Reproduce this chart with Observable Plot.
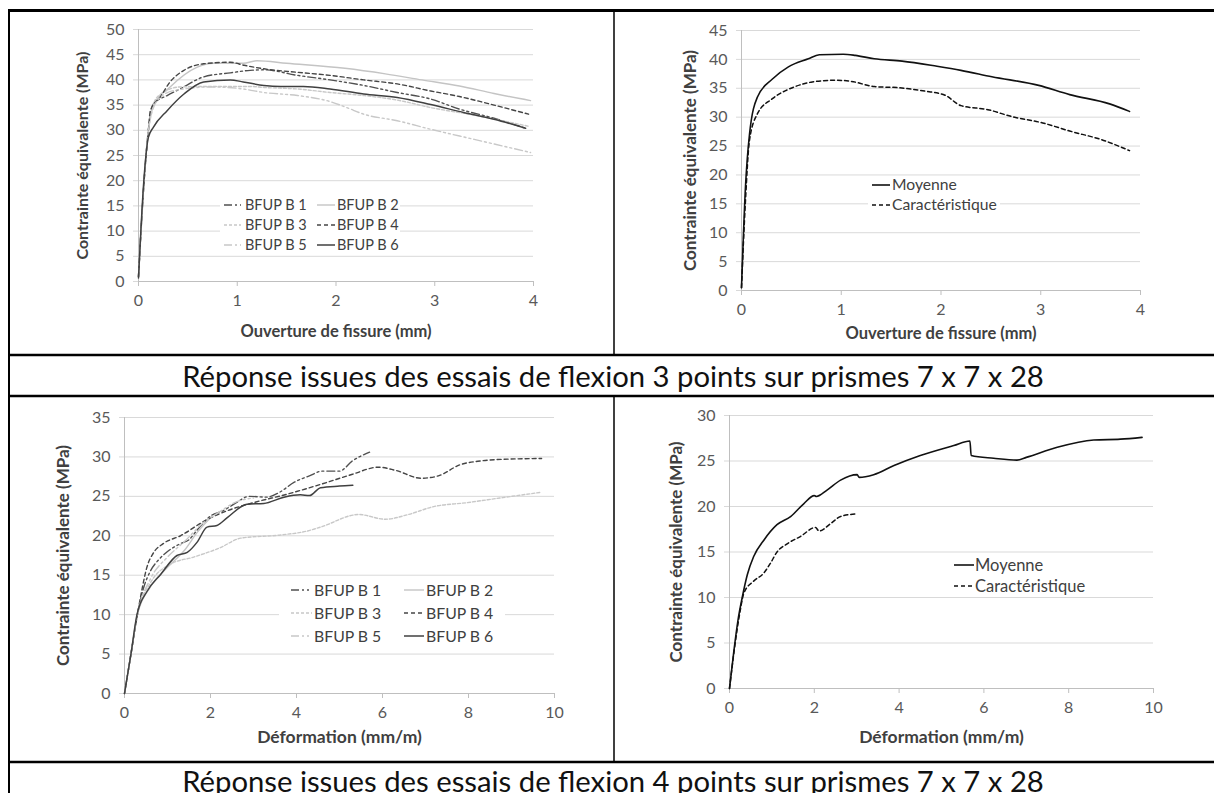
<!DOCTYPE html>
<html><head><meta charset="utf-8">
<script src="https://cdn.jsdelivr.net/npm/d3@7"></script>
<script src="https://cdn.jsdelivr.net/npm/@observablehq/plot@0.6"></script>
<style>
html,body{margin:0;padding:0;background:#fff;}
#page{position:relative;width:1214px;height:793px;overflow:hidden;font-family:Lato,"Open Sans",sans-serif;}
#page > svg{position:absolute;}
</style></head><body><div id="page"></div>
<script>
// ---------- DATA ----------
// Panel 1 : flexion 3 points, individual specimens (ouverture de fissure mm, contrainte MPa)
const f3_xTicks = [0, 1, 2, 3, 4];
const f3_yTicks = [0, 5, 10, 15, 20, 25, 30, 35, 40, 45, 50];
const f3_B1 = [[0,1],[0.05,18],[0.1,30],[0.15,35.2],[0.29,36.9],[0.42,38.2],[0.66,40.6],[0.93,41.4],[1.13,41.9],[1.27,42],[1.61,40.9],[1.94,40],[2.28,38.9],[2.62,37.5],[2.96,36.2],[3.25,34.2],[3.6,32.4],[3.92,30.4]];
const f3_B2 = [[0,1],[0.05,18],[0.1,30],[0.15,34.9],[0.32,38.6],[0.59,42.5],[0.76,43.3],[1.06,43.3],[1.2,43.8],[1.5,43.3],[2.09,42.3],[2.5,41.2],[2.87,40],[3.25,38.8],[3.6,37.3],[3.97,35.9]];
const f3_B3 = [[0,1],[0.05,18],[0.1,30],[0.19,36.6],[0.42,38.6],[0.73,38.7],[1.13,38.7],[1.27,38.5],[1.61,38.2],[1.94,37.5],[2.28,36.9],[2.62,36],[2.96,34.5],[3.4,33],[3.95,30.8]];
const f3_B4 = [[0,1],[0.05,18],[0.1,30],[0.12,33.9],[0.22,36.6],[0.32,39.6],[0.46,41.9],[0.66,43.2],[0.93,43.5],[1.07,42.9],[1.27,42.2],[1.61,41.5],[1.94,40.9],[2.28,40],[2.62,39.2],[2.96,37.8],[3.25,36.7],[3.6,35],[3.95,33.2]];
const f3_B5 = [[0,1],[0.05,18],[0.1,30],[0.19,35.9],[0.36,37.9],[0.73,38.6],[1.06,38.2],[1.27,37.5],[1.61,36.9],[1.94,35.7],[2.11,34.5],[2.28,33.2],[2.62,31.9],[2.96,30.2],[3.4,28.2],[3.97,25.6]];
const f3_B6 = [[0,0.7],[0.054,20],[0.1,28.6],[0.15,30.6],[0.29,33.9],[0.46,37.2],[0.66,39.6],[0.93,40],[1.06,39.6],[1.27,38.9],[1.44,38.7],[1.67,38.7],[1.94,38.2],[2.28,37.2],[2.62,36.5],[2.96,35.1],[3.3,33.5],[3.6,32.2],[3.92,30.4]];

// Panel 2 : flexion 3 points, moyenne / caractéristique
const f3m_yTicks = [0, 5, 10, 15, 20, 25, 30, 35, 40, 45];
const f3_moy = [[0,0.5],[0.04,18],[0.08,27],[0.16,33.5],[0.31,36.6],[0.47,38.7],[0.67,40.1],[0.78,40.8],[1.02,40.9],[1.14,40.7],[1.33,40.1],[1.61,39.7],[1.96,38.8],[2.2,38.1],[2.51,37],[2.98,35.5],[3.29,33.9],[3.69,32.3],[3.89,31]];
const f3_car = [[0,0.5],[0.04,15.6],[0.08,26],[0.16,30.6],[0.31,33.2],[0.51,35.1],[0.71,36.1],[0.94,36.4],[1.1,36.2],[1.33,35.3],[1.57,35.1],[1.84,34.5],[2.04,33.8],[2.2,32],[2.47,31.3],[2.71,30.1],[3.02,29],[3.29,27.6],[3.61,26.1],[3.89,24.2]];

// Panel 3 : flexion 4 points, individual specimens (déformation mm/m, contrainte MPa)
const f4_xTicks = [0, 2, 4, 6, 8, 10];
const f4_yTicks = [0, 5, 10, 15, 20, 25, 30, 35];
const f4_B1 = [[0,0],[0.15,5],[0.3,10],[0.45,13.5],[0.6,15.5],[0.8,17],[1.0,18],[1.3,19],[1.5,19.5],[1.7,20.8],[2.0,22.5],[2.3,23.2],[2.6,24.2],[2.9,25],[3.3,24.9],[3.6,25.5],[3.95,26.8],[4.3,27.6],[4.6,28.2],[5.0,28.2],[5.3,29.5],[5.7,30.6]];
const f4_B2 = [[0,0],[0.15,5],[0.3,10],[0.6,13.5],[1.0,16],[1.4,18.2],[1.7,20.5],[2.0,22.3]];
const f4_B3 = [[0,0],[0.15,5],[0.3,10],[0.6,14],[1.07,16.4],[1.61,17.3],[2.23,18.5],[2.7,19.7],[3.63,20.1],[4.25,20.6],[4.56,21.1],[5.45,22.7],[6.07,22.1],[6.6,22.7],[7.19,23.7],[7.96,24.2],[8.74,24.8],[9.67,25.5]];
const f4_B4 = [[0,0],[0.15,5],[0.3,10],[0.4,13],[0.52,16],[0.67,17.8],[0.9,19],[1.3,20],[1.9,22],[2.4,23.2],[3.0,24.2],[3.8,25.3],[4.55,26.5],[5.3,27.8],[5.9,28.7],[6.3,28.3],[6.9,27.3],[7.3,27.6],[7.8,29],[8.3,29.5],[8.8,29.7],[9.7,29.8]];
const f4_B5 = [[0,0],[0.15,5],[0.3,10],[0.6,14.5],[1.0,17.3],[1.4,19.3],[1.8,21.5],[2.2,23],[2.6,24.3],[3.0,24.8]];
const f4_B6 = [[0,0],[0.15,5],[0.29,10],[0.53,13],[0.84,15.1],[1.22,17.5],[1.46,17.9],[1.69,19.2],[1.92,21.1],[2.15,21.3],[2.39,22.3],[2.85,24],[3.24,24.1],[3.71,24.9],[4.09,25.2],[4.3,25.1],[4.56,26.1],[5.0,26.3],[5.31,26.4]];

// Panel 4 : flexion 4 points, moyenne / caractéristique
const f4m_yTicks = [0, 5, 10, 15, 20, 25, 30];
const f4_moy = [[0,0],[0.1,4],[0.2,7.5],[0.3,10],[0.42,12.5],[0.57,14.5],[0.81,16.3],[1.12,18],[1.44,18.9],[1.75,20.3],[2.0,21.2],[2.05,21.1],[2.3,21.8],[2.62,22.9],[3.01,23.5],[3.06,23.2],[3.4,23.5],[3.88,24.5],[4.5,25.6],[5.29,26.7],[5.67,27.2],[5.7,25.6],[6.23,25.3],[6.78,25.1],[7.0,25.4],[7.73,26.5],[8.59,27.3],[9.22,27.4],[9.73,27.6]];
const f4_car = [[0,0],[0.12,4.5],[0.25,8.5],[0.34,10.5],[0.57,11.8],[0.81,12.7],[0.97,13.8],[1.12,15],[1.36,15.9],[1.67,16.7],[2.03,17.7],[2.11,17.3],[2.38,18.1],[2.62,18.9],[3.01,19.2]];

const specimenNames = ["BFUP B 1", "BFUP B 2", "BFUP B 3", "BFUP B 4", "BFUP B 5", "BFUP B 6"];
const summaryNames = ["Moyenne", "Caractéristique"];
const yTitle = "Contrainte équivalente (MPa)";
const xTitle3 = "Ouverture de fissure (mm)";
const xTitle4 = "Déformation (mm/m)";
const caption3 = "Réponse issues des essais de flexion 3 points sur prismes 7 x 7 x 28";
const caption4 = "Réponse issues des essais de flexion 4 points sur prismes 7 x 7 x 28";

// ---------- STYLES ----------
const FONT = "Lato, 'Open Sans', sans-serif";
const specStyles = [
  {stroke:"#505050", strokeWidth:1.4, strokeDasharray:"8,3,2,3,2,3"},
  {stroke:"#c4c4c4", strokeWidth:1.4, strokeDasharray:null},
  {stroke:"#c8c8c8", strokeWidth:1.4, strokeDasharray:"3,2"},
  {stroke:"#454545", strokeWidth:1.4, strokeDasharray:"4,3"},
  {stroke:"#c8c8c8", strokeWidth:1.4, strokeDasharray:"8,3,2,3,2,3"},
  {stroke:"#404040", strokeWidth:1.5, strokeDasharray:null}
];
const sumStyles = [
  {stroke:"#111", strokeWidth:1.6, strokeDasharray:null},
  {stroke:"#111", strokeWidth:1.5, strokeDasharray:"4,3"}
];

const page = document.getElementById("page");

function makePanel(cfg) {
  const lineMarks = cfg.series.map((s, i) => Plot.line(s, {
    x: d => d[0], y: d => d[1],
    stroke: cfg.styles[i].stroke, strokeWidth: cfg.styles[i].strokeWidth,
    strokeDasharray: cfg.styles[i].strokeDasharray || undefined,
    curve: "monotone-x"
  }));
  const svg = Plot.plot({
    width: cfg.width, height: cfg.height,
    marginLeft: cfg.mL, marginRight: cfg.mR, marginTop: cfg.mT, marginBottom: cfg.mB,
    x: {domain: cfg.xDomain},
    y: {domain: cfg.yDomain},
    style: {fontFamily: FONT, background: "transparent", overflow: "visible"},
    marks: [
      Plot.gridY(cfg.yTicks, {stroke: "#d9d9d9", strokeOpacity: 1}),
      Plot.axisY(cfg.yTicks, {tickSize: 5, tickPadding: 9, stroke: "#d9d9d9", strokeOpacity: 1, fill: "#595959", fontSize: 16, label: null}),
      Plot.ruleX([0], {stroke: "#bfbfbf"}),
      Plot.ruleY([0], {stroke: "#bfbfbf"}),
      Plot.axisX(cfg.xTicks, {tickSize: 5, tickPadding: 8, stroke: "#bfbfbf", strokeOpacity: 1, fill: "#595959", fontSize: 16, label: null}),
      ...lineMarks,
      Plot.text([cfg.yLabel], {text: d => d, frameAnchor: "left", dx: cfg.yTitleDx, rotate: -90, textAnchor: "middle", lineAnchor: "middle", fontWeight: "bold", fontSize: cfg.yTitleSize, fill: "#404040"}),
      Plot.text([cfg.xLabel], {text: d => d, frameAnchor: "bottom", dy: cfg.xTitleDy, textAnchor: "middle", lineAnchor: "middle", fontWeight: "bold", fontSize: cfg.xTitleSize, fill: "#404040"})
    ]
  });
  svg.style.left = cfg.left + "px";
  svg.style.top = cfg.top + "px";
  page.appendChild(svg);
}

makePanel({left: 10, top: 12, width: 603, height: 342, mL: 128, mR: 80, mT: 17, mB: 73,
  xDomain: [0, 4], yDomain: [0, 50], xTicks: f3_xTicks, yTicks: f3_yTicks,
  series: [f3_B1, f3_B2, f3_B3, f3_B4, f3_B5, f3_B6], styles: specStyles,
  yLabel: yTitle, xLabel: xTitle3, yTitleDx: -56, xTitleDy: 50, yTitleSize: 16, xTitleSize: 16.5});

makePanel({left: 615, top: 12, width: 599, height: 342, mL: 126, mR: 74, mT: 18, mB: 64,
  xDomain: [0, 4], yDomain: [0, 45], xTicks: f3_xTicks, yTicks: f3m_yTicks,
  series: [f3_moy, f3_car], styles: sumStyles,
  yLabel: yTitle, xLabel: xTitle3, yTitleDx: -51, xTitleDy: 43, yTitleSize: 17, xTitleSize: 16.5});

makePanel({left: 10, top: 397, width: 603, height: 364, mL: 114, mR: 59, mT: 20, mB: 68,
  xDomain: [0, 10], yDomain: [0, 35], xTicks: f4_xTicks, yTicks: f4_yTicks,
  series: [f4_B1, f4_B2, f4_B3, f4_B4, f4_B5, f4_B6], styles: specStyles,
  yLabel: yTitle, xLabel: xTitle4, yTitleDx: -61, xTitleDy: 44, yTitleSize: 17, xTitleSize: 17.5});

makePanel({left: 615, top: 397, width: 599, height: 364, mL: 114, mR: 61, mT: 18, mB: 73,
  xDomain: [0, 10], yDomain: [0, 30], xTicks: f4_xTicks, yTicks: f4m_yTicks,
  series: [f4_moy, f4_car], styles: sumStyles,
  yLabel: yTitle, xLabel: xTitle4, yTitleDx: -53, xTitleDy: 49, yTitleSize: 17, xTitleSize: 17.5});

// ---------- OVERLAY: table frame, legends, captions ----------
const ov = d3.select(page).append("svg").attr("id", "overlay")
  .attr("width", 1214).attr("height", 793).style("left", "0px").style("top", "0px")
  .style("font-family", FONT);

function legend(box, items, fs) {
  ov.append("rect").attr("x", box[0]).attr("y", box[1]).attr("width", box[2] - box[0]).attr("height", box[3] - box[1]).attr("fill", "#fff");
  items.forEach(it => {
    ov.append("line").attr("x1", it.x1).attr("x2", it.x2).attr("y1", it.y).attr("y2", it.y)
      .attr("stroke", it.style.stroke).attr("stroke-width", it.style.strokeWidth)
      .attr("stroke-dasharray", it.style.strokeDasharray);
    ov.append("text").attr("x", it.tx).attr("y", it.y).attr("dy", "0.35em")
      .attr("font-size", fs).attr("fill", "#404040").text(it.label);
  });
}
function specLegend(box, c1, c2, rows, fs) {
  const items = [];
  specimenNames.forEach((n, i) => {
    const c = i % 2 === 0 ? c1 : c2;
    items.push({label: n, style: specStyles[i], x1: c[0], x2: c[1], tx: c[2], y: rows[Math.floor(i / 2)]});
  });
  legend(box, items, fs);
}
function sumLegend(box, c, rows, fs) {
  legend(box, summaryNames.map((n, i) => ({label: n, style: sumStyles[i], x1: c[0], x2: c[1], tx: c[2], y: rows[i]})), fs);
}
specLegend([220, 195, 400, 254], [224, 241, 245], [317, 335, 337], [205, 225, 245], 14.5);
sumLegend([868, 177, 1000, 214], [872, 890, 892], [185, 205], 15.7);
specLegend([279, 579, 505, 648], [291, 312, 314], [404, 424, 426], [590, 613, 636], 15.8);
sumLegend([950, 556, 1092, 595], [954, 974, 975], [565, 586], 16.5);

// table lines
const frame = [
  [8, 10.5, 1214, 10.5, 3], [9, 10, 9, 793, 2],
  [614, 10, 614, 355, 1.5], [614, 396, 614, 762, 1.5],
  [8, 355, 1214, 355, 2.5], [8, 396, 1214, 396, 2.5], [8, 762, 1214, 762, 2.5]
];
frame.forEach(f => ov.append("line").attr("x1", f[0]).attr("y1", f[1]).attr("x2", f[2]).attr("y2", f[3])
  .attr("stroke", "#000").attr("stroke-width", f[4]));

function caption(txt, y) {
  const t = ov.append("text").attr("x", 613).attr("y", y).attr("text-anchor", "middle")
    .attr("font-size", 27).attr("fill", "#111").text(txt);
  const w = t.node().getComputedTextLength();
  if (w > 0) t.attr("font-size", (27 * 862 / w).toFixed(2));
}
caption(caption3, 387);
caption(caption4, 792);
</script>
</body></html>
